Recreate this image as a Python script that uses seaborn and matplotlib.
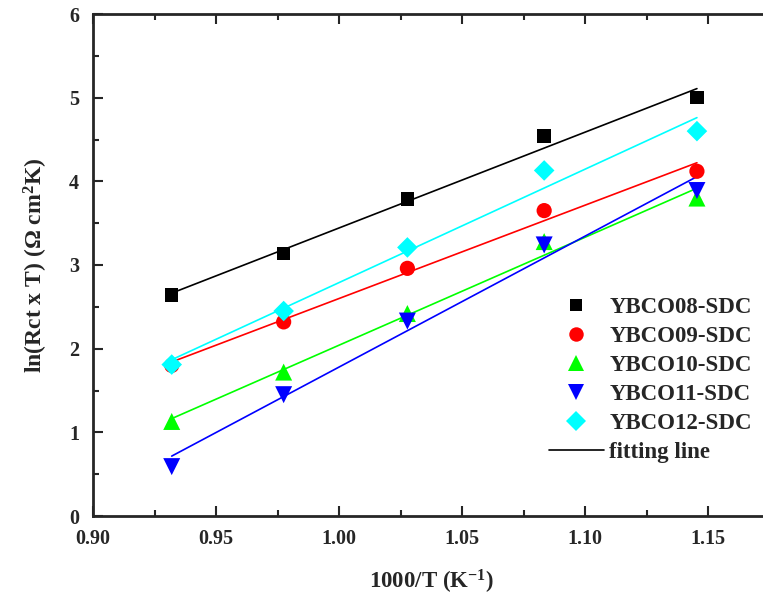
import numpy as np
import pandas as pd
import matplotlib
matplotlib.use("Agg")
import matplotlib.pyplot as plt
from matplotlib.lines import Line2D
import seaborn as sns

# ---- data ----
x_vals = [0.932, 0.9775, 1.0278, 1.0834, 1.1455]
ybco08 = [2.64, 3.14, 3.79, 4.545, 5.00]
ybco09 = [1.80, 2.32, 2.96, 3.65, 4.12]
ybco10 = [1.13, 1.72, 2.42, 3.28, 3.80]
ybco11 = [0.59, 1.45, 2.33, 3.24, 3.89]
ybco12 = [1.81, 2.45, 3.21, 4.13, 4.60]
series_names = ["YBCO08-SDC", "YBCO09-SDC", "YBCO10-SDC", "YBCO11-SDC", "YBCO12-SDC"]
series_vals = [ybco08, ybco09, ybco10, ybco11, ybco12]
colors = ["#000000", "#ff0000", "#00ff00", "#0000ff", "#00ffff"]
markers = ["s", "o", "^", "v", "D"]
msizes = [95, 120, 150, 150, 110]
x_ticks = [0.90, 0.95, 1.00, 1.05, 1.10, 1.15]
x_tick_labels = ["0.90", "0.95", "1.00", "1.05", "1.10", "1.15"]
y_ticks = [0, 1, 2, 3, 4, 5, 6]

sns.set_style("ticks")
plt.rcParams['font.family'] = ['Liberation Serif', 'DejaVu Serif']
plt.rcParams['font.weight'] = 'bold'
plt.rcParams['mathtext.fontset'] = 'custom'
plt.rcParams['mathtext.rm'] = 'Liberation Serif:bold'
plt.rcParams['mathtext.it'] = 'Liberation Serif:bold'
plt.rcParams['mathtext.bf'] = 'Liberation Serif:bold'

fig = plt.figure(figsize=(7.63, 6.03), dpi=100)
ax = fig.add_axes([93 / 763, 1 - 516 / 603, 676.5 / 763, (516 - 14) / 603])

df = pd.DataFrame({"x": x_vals})
handles = []
for name, vals, c in zip(series_names, series_vals, colors):
    df[name] = vals
    sns.regplot(data=df, x="x", y=name, ax=ax, scatter=False, ci=None,
                truncate=True, line_kws=dict(color=c, lw=1.2, zorder=2))
for name, vals, c, m, s in zip(series_names, series_vals, colors, markers, msizes):
    sns.scatterplot(data=df, x="x", y=name, ax=ax, marker=m, color=c, s=s,
                    edgecolor="none", zorder=3, label=name, legend=False)
    handles.append(Line2D([], [], ls="none", marker=m, color=c,
                          markersize=np.sqrt(s) * 0.95, markeredgewidth=0, label=name))
handles.append(Line2D([], [], color="black", lw=1.2, label="fitting line"))

ax.set_xlim(0.90, 1.175)
ax.set_ylim(0, 6)
ax.set_xticks(x_ticks)
ax.set_xticklabels(x_tick_labels)
ax.set_yticks(y_ticks)
ax.set_xticks(np.arange(0.925, 1.175, 0.05), minor=True)
ax.set_yticks(np.arange(0.5, 6, 1.0), minor=True)
ax.tick_params(which="both", direction="in", top=True, right=False, width=1.5)
ax.tick_params(axis="x", which="major", length=7, labelsize=14.5, pad=9)
ax.tick_params(axis="y", which="major", length=7, labelsize=14.5, pad=10)
ax.tick_params(which="minor", length=4)
for lab in ax.get_xticklabels() + ax.get_yticklabels():
    lab.set_fontweight("bold")
for sp in ax.spines.values():
    sp.set_linewidth(2)

ax.set_xlabel("1000/T (K$^{-1}$)", fontsize=16.5, fontweight="bold", labelpad=14)
ax.set_ylabel("ln(Rct x T) ($\\Omega$ cm$^{2}$K)", fontsize=17, fontweight="bold", labelpad=14)

leg = ax.legend(handles=handles, loc="upper left", bbox_to_anchor=(0.66, 0.455),
                frameon=False, prop=dict(size=16.5, weight="bold"),
                handlelength=2.4, handletextpad=0.25, labelspacing=0.35,
                borderaxespad=0)

fig.savefig("out.png", dpi=100)
